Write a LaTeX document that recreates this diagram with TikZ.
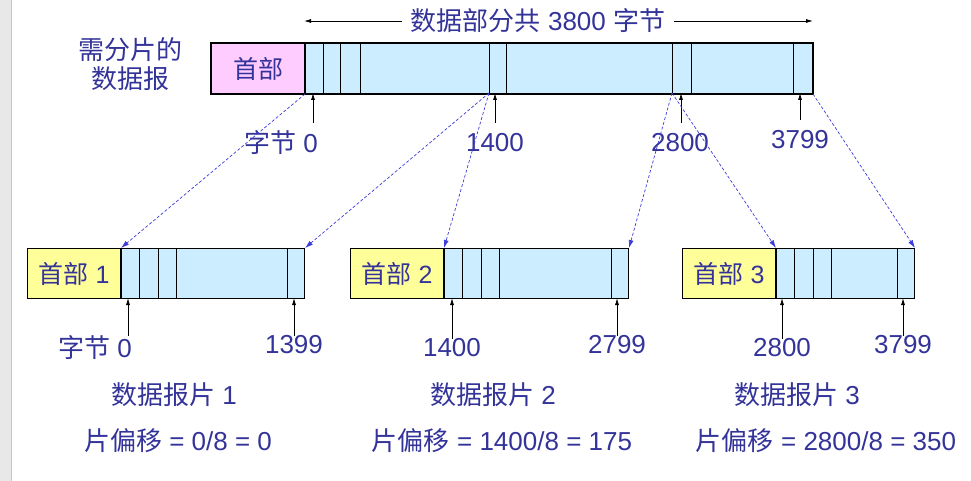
\documentclass[tikz,border=0pt]{standalone}
\usepackage{fontspec}
\setmainfont{Liberation Sans}
\newfontfamily\cjk{Noto Sans CJK SC}
\usetikzlibrary{arrows.meta,positioning}
\definecolor{labelblue}{RGB}{51,51,153}
\definecolor{hdrpink}{RGB}{255,204,255}
\definecolor{hdryellow}{RGB}{255,255,153}
\definecolor{datablue}{RGB}{204,236,255}
\definecolor{mapblue}{RGB}{60,60,220}
\newcommand{\zh}[1]{{\cjk #1}}

\begin{document}
\begin{tikzpicture}[x=1pt,y=-1pt,
  lbl/.style={font=\fontsize{26}{29}\selectfont, text=labelblue, inner sep=0pt},
  hdrcell/.style={draw, line width=1pt, minimum height=50pt, minimum width=93pt,
    inner sep=0pt, anchor=north west, font=\fontsize{25}{29}\selectfont, text=labelblue},
  datacell/.style={draw, line width=1pt, fill=datablue, minimum height=50pt,
    inner sep=0pt, anchor=north west},
  ptr/.style={-{Latex[length=7pt,width=4pt]}, line width=0.8pt, black},
  map/.style={-{Latex[length=8pt,width=5pt]}, densely dashed, line width=0.7pt, mapblue},
  spanarr/.style={-{Latex[length=7pt,width=4pt]}, line width=0.8pt, black}]
  \useasboundingbox (0,0) rectangle (971,481);
  % window edge
  \fill[gray!18] (0,0) rectangle (11,481);
  \draw[gray!45] (11,0) -- (11,481);

  % datagram to be fragmented
  \node[lbl, align=center] (src) at (130,64) {\zh{需分片的}\\\zh{数据报}};
  \node[hdrcell, fill=hdrpink] (th) at (211,43) {\zh{首部}};
  \node[datacell, minimum width=507pt] (td) at (th.north east) {};
  \foreach \x in {323,340,360,489,506,672,691,793}
    \draw[line width=1pt] (\x,43) -- (\x,93);
  \draw[line width=2.5pt] (th.north west) rectangle (td.south east);

  % data length
  \node[lbl] (total) at (538,21) {\zh{数据部分共} 3800 \zh{字节}};
  \coordinate (spanL) at (304,21);
  \coordinate (spanR) at (813,21);
  \draw[spanarr] ([xshift=-9pt]total.west) -- (spanL);
  \draw[spanarr] ([xshift=9pt]total.east) -- (spanR);

  % byte positions
  \coordinate (p0) at (313,93);
  \coordinate (p1) at (495,93);
  \coordinate (p2) at (681,93);
  \coordinate (p3) at (800,93);
  \coordinate (m1) at (489,93);
  \coordinate (m2) at (672,93);
  \node[lbl] (b0) at (281,143) {\zh{字节} 0};
  \node[lbl] (b1) at (495,143) {1400};
  \node[lbl] (b2) at (680,143) {2800};
  \node[lbl] (b3) at (800,140) {3799};
  \draw[ptr] ([yshift=8pt]b0.north -| p0) -- (p0);
  \draw[ptr] ([yshift=11pt]b1.north) -- (p1);
  \draw[ptr] ([yshift=11pt]b2.north -| p2) -- (p2);
  \draw[ptr] ([yshift=11pt]b3.north) -- (p3);

  % fragments
  \foreach \x/\w/\n in {27/183/1, 350/184/2, 682/138/3} {
    \node[hdrcell, fill=hdryellow] (h\n) at (\x,248) {\zh{首部} \n};
    \node[datacell, minimum width=\w pt] (d\n) at (h\n.north east) {};
    \foreach \s in {18,37,55}
      \draw[line width=1pt] ([xshift=\s pt]h\n.north east) -- ([xshift=\s pt]h\n.south east);
    \draw[line width=1pt] ([xshift=-18pt]d\n.north east) -- ([xshift=-18pt]d\n.south east);
  }

  % mapping of data parts
  \draw[map] (td.south west) -- (h1.north east);
  \draw[map] (m1) -- (d1.north east);
  \draw[map] (m1) -- (h2.north east);
  \draw[map] (m2) -- (d2.north east);
  \draw[map] (m2) -- (h3.north east);
  \draw[map] (td.south east) -- (d3.north east);

  % fragment byte positions
  \coordinate (f1a) at (128,298);
  \coordinate (f1b) at (294,298);
  \coordinate (f2a) at (452,298);
  \coordinate (f2b) at (617,298);
  \coordinate (f3a) at (782,298);
  \coordinate (f3b) at (903,298);
  \node[lbl] (l1a) at (95,348) {\zh{字节} 0};
  \node[lbl] (l1b) at (294,345) {1399};
  \node[lbl] (l2a) at (452,348) {1400};
  \node[lbl] (l2b) at (617,345) {2799};
  \node[lbl] (l3a) at (782,348) {2800};
  \node[lbl] (l3b) at (903,345) {3799};
  \foreach \p in {1a,1b,2a,2b,3a,3b}
    \draw[ptr] (f\p |- l\p.north) -- (f\p);

  % fragment names and offsets
  \node[lbl] (n1) at (174,395) {\zh{数据报片} 1};
  \node[lbl] (n2) at (493,395) {\zh{数据报片} 2};
  \node[lbl] (n3) at (797,395) {\zh{数据报片} 3};
  \node[lbl] (o1) at (178,441) {\zh{片偏移} = 0/8 = 0};
  \node[lbl] (o2) at (502,441) {\zh{片偏移} = 1400/8 = 175};
  \node[lbl] (o3) at (826,441) {\zh{片偏移} = 2800/8 = 350};
\end{tikzpicture}
\end{document}
